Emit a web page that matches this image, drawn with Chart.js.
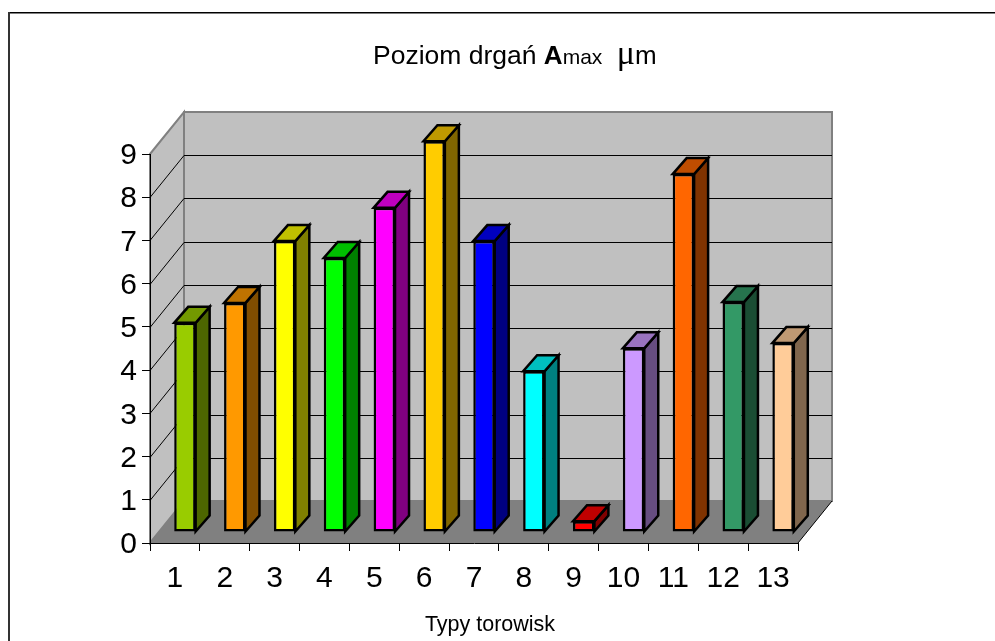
<!DOCTYPE html>
<html>
<head>
<meta charset="utf-8">
<style>
  html, body { margin: 0; padding: 0; background: #fff; }
  canvas { display: block; }
</style>
<script src="https://cdn.jsdelivr.net/npm/chart.js@4"></script>
</head>
<body>
<canvas id="myChart" width="995" height="641"></canvas>
<script>
// ----- data -----
const categories = ['1', '2', '3', '4', '5', '6', '7', '8', '9', '10', '11', '12', '13'];
const values = [4.84, 5.3, 6.73, 6.34, 7.5, 9.04, 6.73, 3.72, 0.25, 4.25, 8.28, 5.32, 4.37];
const barColors = ['#99CC00', '#FF9900', '#FFFF00', '#00FF00', '#FF00FF', '#FFCC00', '#0000FF',
    '#00FFFF', '#FF0000', '#CC99FF', '#FF6600', '#339966', '#FFCC99'];
const yMax = 9;

// ----- 3d look -----
const wallDepth = { x: 34, y: -42 };   // floor depth of the plot box
const barShift = { x: 10, y: -11 };    // where the bar front sits in that depth
const barDepth = { x: 14, y: -16 };    // depth of one bar
const edge = 2.5;

function shade(hex, f) {
    const n = parseInt(hex.slice(1), 16);
    const r = Math.round((n >> 16 & 255) * f);
    const g = Math.round((n >> 8 & 255) * f);
    const b = Math.round((n & 255) * f);
    return `rgb(${r},${g},${b})`;
}

function poly(ctx, pts, fill, stroke, lw) {
    ctx.beginPath();
    pts.forEach((p, i) => i ? ctx.lineTo(p[0], p[1]) : ctx.moveTo(p[0], p[1]));
    ctx.closePath();
    if (fill) { ctx.fillStyle = fill; ctx.fill(); }
    if (stroke) { ctx.strokeStyle = stroke; ctx.lineWidth = lw; ctx.stroke(); }
}

const box3d = {
    id: 'box3d',
    beforeDraw(chart) {
        const ctx = chart.ctx;
        const a = chart.chartArea;
        const y = chart.scales.y;
        const dx = wallDepth.x, dy = wallDepth.y;
        // y labels sit a little under their ticks
        y.getLabelItems().forEach(it => { it.textOffset = 2; });
        ctx.save();
        // outer frame: top and left only, the rest is cut off
        ctx.strokeStyle = '#000';
        ctx.lineWidth = 1.5;
        ctx.beginPath();
        ctx.moveTo(8, 12.75);
        ctx.lineTo(995, 12.75);
        ctx.stroke();
        ctx.strokeStyle = '#333';
        ctx.lineWidth = 2;
        ctx.beginPath();
        ctx.moveTo(9, 12);
        ctx.lineTo(9, 641);
        ctx.stroke();
        // left wall, back wall, floor
        poly(ctx, [[a.left, a.top], [a.left + dx, a.top + dy], [a.left + dx, a.bottom + dy], [a.left, a.bottom]], '#C0C0C0', '#808080', 2);
        poly(ctx, [[a.left + dx, a.top + dy], [a.right + dx, a.top + dy], [a.right + dx, a.bottom + dy], [a.left + dx, a.bottom + dy]], '#C0C0C0', '#808080', 2);
        poly(ctx, [[a.left, a.bottom], [a.left + dx, a.bottom + dy], [a.right + dx, a.bottom + dy], [a.right, a.bottom]], '#808080');
        // gridlines on the walls
        ctx.strokeStyle = '#000';
        ctx.lineWidth = 1;
        y.ticks.forEach(t => {
            if (t.value === 0 || t.value === yMax) return;
            const py = Math.round(y.getPixelForValue(t.value)) + 0.5;
            ctx.beginPath();
            ctx.moveTo(a.left, py);
            ctx.lineTo(a.left + dx, py + dy);
            ctx.lineTo(a.right + dx, py + dy);
            ctx.stroke();
        });
        // front edge of the floor on the right
        ctx.beginPath();
        ctx.moveTo(a.right, a.bottom);
        ctx.lineTo(a.right + dx, a.bottom + dy);
        ctx.stroke();
        ctx.restore();
    },
    beforeDatasetDraw(chart, args) {
        const ctx = chart.ctx;
        ctx.save();
        ctx.translate(barShift.x, barShift.y);
        ctx.lineJoin = 'miter';
        args.meta.data.forEach((el, i) => {
            const l = el.x - el.width / 2, r = el.x + el.width / 2;
            const dx = barDepth.x, dy = barDepth.y;
            poly(ctx, [[r, el.y], [r + dx, el.y + dy], [r + dx, el.base + dy], [r, el.base]], shade(barColors[i], 0.5), '#000', edge);
            poly(ctx, [[l, el.y], [r, el.y], [r + dx, el.y + dy], [l + dx, el.y + dy]], shade(barColors[i], 0.75), '#000', edge);
        });
    },
    afterDatasetDraw(chart) {
        chart.ctx.restore();
    },
    afterDraw(chart) {
        const ctx = chart.ctx;
        ctx.save();
        ctx.fillStyle = '#000';
        ctx.textBaseline = 'alphabetic';
        ctx.textAlign = 'left';
        // title has mixed fonts, so one run at a time
        const runs = [
            ['Poziom drgań ', '26.5px "Liberation Sans"'],
            ['A', 'bold 26px "Liberation Sans"'],
            ['max', '21px "Liberation Sans"'],
            ['  ', '26px "Liberation Sans"'],
            ['μ', '34px "Liberation Serif"'],
            ['m', '26px "Liberation Sans"'],
        ];
        let x = 373;
        runs.forEach(r => {
            ctx.font = r[1];
            ctx.fillText(r[0], x, 64);
            x += ctx.measureText(r[0]).width;
        });
        ctx.font = '21.5px "Liberation Sans"';
        ctx.textAlign = 'center';
        ctx.fillText('Typy torowisk', 490, 631);
        ctx.restore();
    },
};

const axisFont = { family: '"Liberation Sans"', size: 30 };

new Chart(document.getElementById('myChart').getContext('2d'), {
    type: 'bar',
    data: {
        labels: categories,
        datasets: [{
            data: values,
            backgroundColor: barColors,
            borderColor: '#000',
            borderWidth: edge,
            borderSkipped: false,
            categoryPercentage: 1,
            barPercentage: 0.43,
            clip: false,
        }],
    },
    options: {
        responsive: false,
        animation: false,
        layout: { padding: { left: 0, right: 197, top: 154, bottom: 0 } },
        plugins: { legend: { display: false }, title: { display: false }, tooltip: { enabled: false } },
        scales: {
            x: {
                afterFit: s => { s.height = 98; },
                grid: { drawOnChartArea: false, color: '#000', tickLength: 8 },
                border: { color: '#000' },
                ticks: { color: '#000', font: axisFont, padding: 10, maxRotation: 0, autoSkip: false },
            },
            y: {
                min: 0,
                max: yMax,
                afterFit: s => { s.width = 150; },
                grid: { drawOnChartArea: false, color: '#000', tickLength: 8 },
                border: { color: '#000' },
                ticks: { color: '#000', font: axisFont, padding: 5, stepSize: 1 },
            },
        },
    },
    plugins: [box3d],
});
</script>
</body>
</html>
